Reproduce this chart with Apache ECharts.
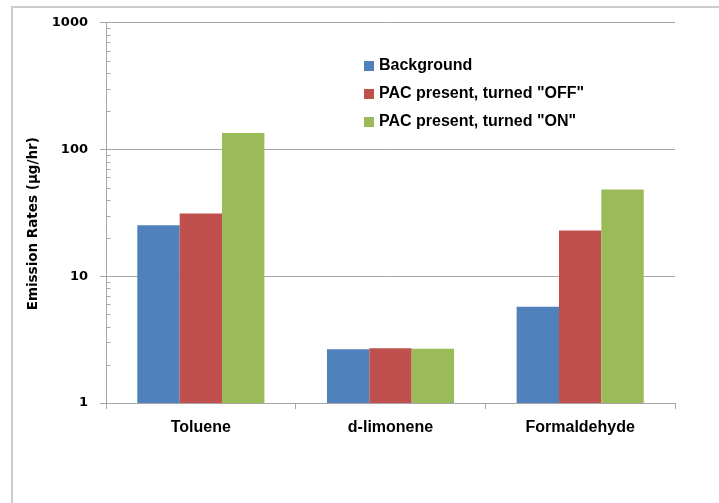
<!DOCTYPE html>
<html>
<head>
<meta charset="utf-8">
<script src="https://cdn.jsdelivr.net/npm/echarts@6/dist/echarts.min.js"></script>
<style>
  html, body { margin: 0; padding: 0; background: #fff; }
  #chart { width: 719px; height: 503px; }
</style>
</head>
<body>
<div id="chart"></div>
<script>
// Emission rates of VOCs measured in the chamber (µg/hr), log scale
const categories = ['Toluene', 'd-limonene', 'Formaldehyde'];
const seriesNames = ['Background', 'PAC present, turned "OFF"', 'PAC present, turned "ON"'];
const background = [25.2, 2.65, 5.73];
const pacOff = [31.2, 2.70, 22.9];
const pacOn = [134.4, 2.68, 48.2];
const yTickValues = [1, 10, 100, 1000];
// minor ticks of the log axis: 2..9 within each decade
const minorTickValues = [2, 3, 4, 5, 6, 7, 8, 9, 20, 30, 40, 50, 60, 70, 80, 90, 200, 300, 400, 500, 600, 700, 800, 900];

const colors = ['#4F81BD', '#C0504D', '#9BBB59'];
const axisGray = '#a6a6a6';
const labelFont = 'Liberation Sans';

const chart = echarts.init(document.getElementById('chart'), null, { renderer: 'canvas' });

const barSeries = [background, pacOff, pacOn].map((vals, i) => ({
  name: seriesNames[i],
  type: 'bar',
  data: vals,
  barGap: '0%',
  barCategoryGap: '33%',
  itemStyle: { color: colors[i] },
  z: 2
}));

chart.setOption({
  animation: false,
  backgroundColor: '#ffffff',
  graphic: [{
    type: 'rect',
    shape: { x: 12, y: 7, width: 730, height: 520 },
    style: { fill: 'none', stroke: '#cccccc', lineWidth: 2 },
    silent: true,
    z: 0
  }],
  grid: { left: 106, right: 44, top: 22.5, bottom: 100, containLabel: false },
  legend: {
    data: seriesNames,
    orient: 'vertical',
    left: 359,
    top: 53,
    itemWidth: 10,
    itemHeight: 10,
    itemGap: 12,
    icon: 'rect',
    textStyle: {
      fontFamily: labelFont,
      fontWeight: 'bold',
      fontSize: 16,
      lineHeight: 16,
      color: '#000',
      padding: [0, 0, 0, 0]
    }
  },
  xAxis: {
    type: 'category',
    data: categories,
    axisLine: { lineStyle: { color: axisGray, width: 1 } },
    axisTick: { show: true, length: 6, alignWithLabel: false, lineStyle: { color: axisGray } },
    axisLabel: {
      margin: 17,
      fontFamily: labelFont,
      fontWeight: 'bold',
      fontSize: 16,
      color: '#000'
    },
    splitLine: { show: false }
  },
  yAxis: {
    type: 'log',
    logBase: 10,
    min: yTickValues[0],
    max: yTickValues[yTickValues.length - 1],
    splitNumber: yTickValues.length - 1,
    name: 'Emission Rates (µg/hr)',
    nameLocation: 'middle',
    nameGap: 60,
    nameTextStyle: {
      fontFamily: 'DejaVu Sans',
      fontWeight: 'bold',
      fontSize: 13.5,
      color: '#000',
      padding: [0, 22, 0, 0]
    },
    axisLine: { show: true, lineStyle: { color: axisGray, width: 1 } },
    axisTick: { show: true, inside: false, length: 6, lineStyle: { color: axisGray } },
    axisLabel: {
      margin: 18,
      fontFamily: 'DejaVu Sans',
      fontWeight: 'bold',
      fontSize: 13,
      color: '#000',
      formatter: v => String(Math.round(v))
    },
    splitLine: { show: true, lineStyle: { color: axisGray, width: 1 } }
  },
  series: barSeries.concat([{
    name: 'minorTicks',
    type: 'custom',
    silent: true,
    z: 3,
    data: minorTickValues.map(v => [0, v]),
    encode: { x: 0, y: 1 },
    renderItem: function (params, api) {
      const p = api.coord([0, api.value(1)]);
      const band = api.size([1, 0])[0];
      const x0 = Math.round(p[0] - band / 2) + 0.5;
      const y = Math.round(p[1]) + 0.5;
      return {
        type: 'line',
        shape: { x1: x0, y1: y, x2: x0 + 4, y2: y },
        style: { stroke: axisGray, lineWidth: 1 }
      };
    }
  }])
});
</script>
</body>
</html>
